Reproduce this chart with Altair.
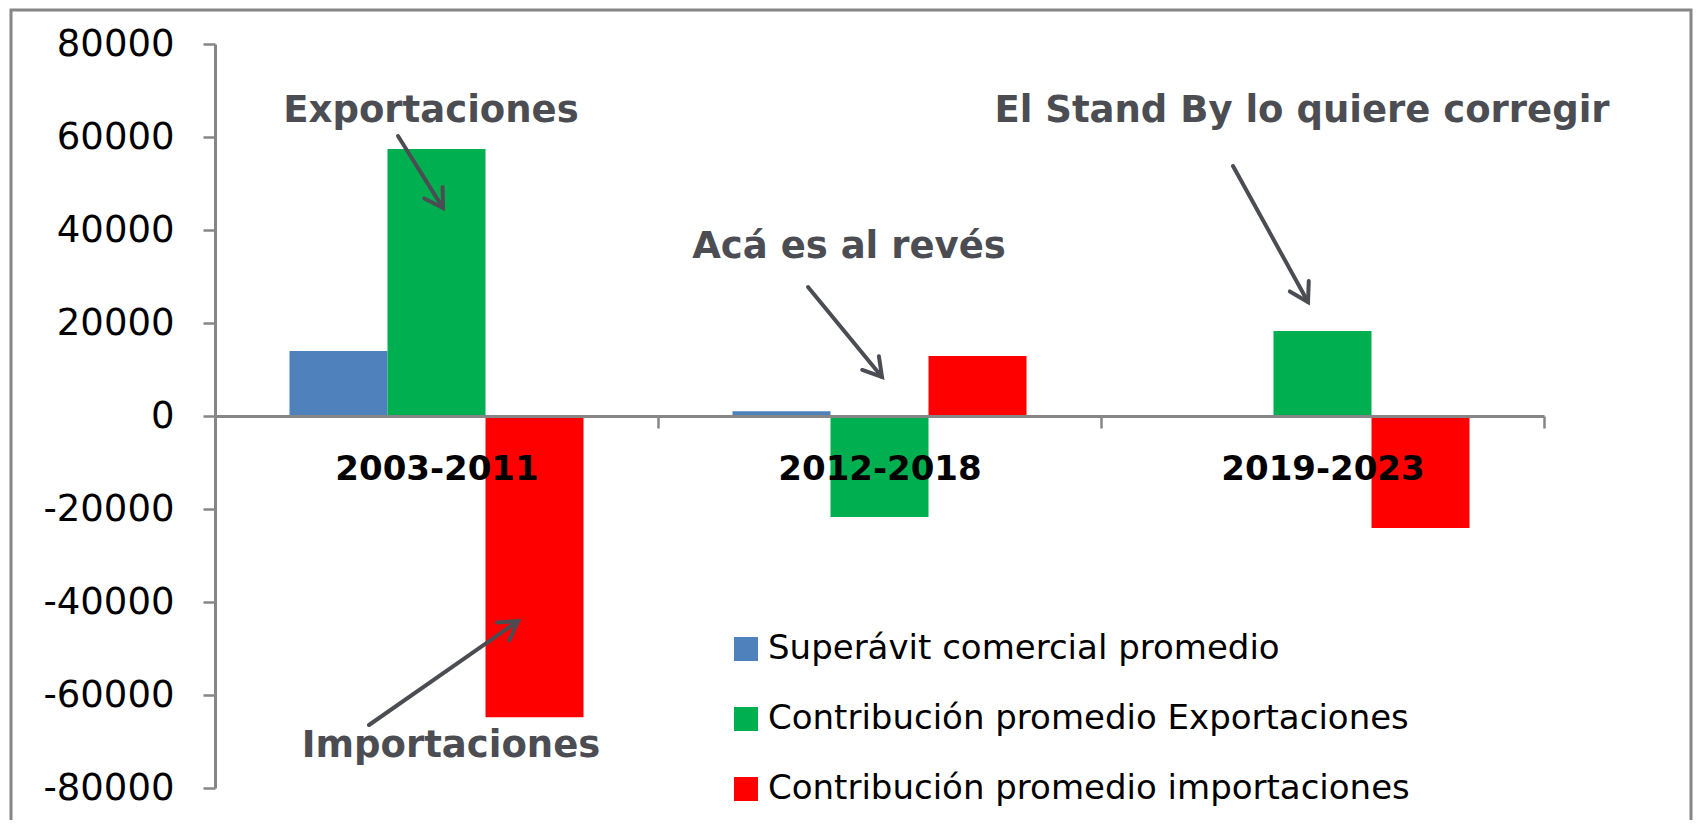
import math
import altair as alt
import pandas as pd

# ---- data ----
periods = ["2003-2011", "2012-2018", "2019-2023"]
series = [
    "Superávit comercial promedio",
    "Contribución promedio Exportaciones",
    "Contribución promedio importaciones",
]
superavit = [14000, 1000, 200]
exportaciones = [57400, -21700, 18300]
importaciones = [-64800, 12900, -24100]
y_ticks = [-80000, -60000, -40000, -20000, 0, 20000, 40000, 60000, 80000]
annot_texts = ["Exportaciones", "Importaciones", "Acá es al revés", "El Stand By lo quiere corregir"]

# ---- styles / positions ----
colors = ["#4F81BD", "#00B050", "#FF0000"]
AXIS_GRAY = "#868686"
ANNOT_COLOR = "#4B4D53"
W, H = 1329, 744
FONT = "DejaVu Sans"

# text anchors (pixels inside plot area): center x, baseline y
annot_pos = [(216, 78), (236, 713), (634, 214), (1087, 78)]
# arrows: start (x0,y0) -> tip (x1,y1)
arrows = [
    (183, 92, 228, 164),
    (154, 681, 303, 577),
    (593, 243, 667, 333),
    (1018, 122, 1093, 258),
]

rows = []
for i, p in enumerate(periods):
    for s, vals in zip(series, [superavit, exportaciones, importaciones]):
        rows.append({"period": p, "series": s, "value": vals[i]})
df = pd.DataFrame(rows)

bars = alt.Chart(df).mark_bar().encode(
    x=alt.X(
        "period:N",
        sort=periods,
        scale=alt.Scale(paddingInner=0, paddingOuter=0),
        axis=alt.Axis(
            title=None,
            labelAngle=0,
            labelFont=FONT,
            labelFontSize=34,
            labelFontWeight="bold",
            labelColor="black",
            labelPadding=24,
            labelLimit=0,
            domainColor=AXIS_GRAY,
            domainWidth=3,
            tickColor=AXIS_GRAY,
            tickWidth=2.5,
            tickSize=12,
            tickBand="extent",
            offset=-H / 2,
            zindex=1,
        ),
    ),
    xOffset=alt.XOffset(
        "series:N", sort=series, scale=alt.Scale(paddingInner=0, paddingOuter=0.76)
    ),
    y=alt.Y(
        "value:Q",
        scale=alt.Scale(domain=[-80000, 80000], nice=False),
        axis=alt.Axis(
            title=None,
            values=y_ticks,
            labelExpr="'' + datum.value",
            grid=False,
            labelFont=FONT,
            labelFontSize=37,
            labelColor="black",
            labelPadding=29,
            domainColor=AXIS_GRAY,
            domainWidth=3,
            tickColor=AXIS_GRAY,
            tickWidth=2.5,
            tickSize=12,
        ),
    ),
    color=alt.Color(
        "series:N",
        sort=series,
        scale=alt.Scale(domain=series, range=colors),
        legend=alt.Legend(
            title=None,
            orient="none",
            legendX=514,
            legendY=588,
            symbolType="square",
            symbolSize=576,
            symbolStrokeWidth=0,
            labelFont=FONT,
            labelFontSize=34,
            labelColor="black",
            labelOffset=5,
            rowPadding=36,
            padding=0,
            labelLimit=0,
        ),
    ),
)

one = pd.DataFrame({"k": [0]})

frame = alt.Chart(one).mark_rect(fillOpacity=0, stroke=AXIS_GRAY, strokeWidth=3).encode(
    x=alt.value(-204), x2=alt.value(1476), y=alt.value(-34), y2=alt.value(820)
)

layers = [frame, bars]

for txt, (tx, ty) in zip(annot_texts, annot_pos):
    layers.append(
        alt.Chart(one)
        .mark_text(
            text=txt,
            font=FONT,
            fontSize=37,
            fontWeight="bold",
            color=ANNOT_COLOR,
            align="center",
            baseline="alphabetic",
        )
        .encode(x=alt.value(tx), y=alt.value(ty))
    )

head_path = "M-0.6,1L0,0L0.6,1"
for (x0, y0, x1, y1) in arrows:
    layers.append(
        alt.Chart(one)
        .mark_rule(color=ANNOT_COLOR, strokeWidth=4, strokeCap="round")
        .encode(x=alt.value(x0), y=alt.value(y0), x2=alt.value(x1), y2=alt.value(y1))
    )
    ang = math.degrees(math.atan2(x1 - x0, -(y1 - y0))) % 360
    layers.append(
        alt.Chart(one)
        .mark_point(
            shape=head_path,
            size=1300,
            angle=ang,
            filled=False,
            stroke=ANNOT_COLOR,
            strokeWidth=4,
            strokeCap="round",
            strokeJoin="miter",
            opacity=1,
        )
        .encode(x=alt.value(x1), y=alt.value(y1))
    )

chart = (
    alt.layer(*layers)
    .properties(
        width=W,
        height=H,
        padding={"left": 207, "top": 36, "right": 150, "bottom": 32},
        autosize=alt.AutoSizeParams(type="none"),
        background="white",
    )
    .configure_view(stroke=None)
)

chart.save("out.html", embed_options={"renderer": "svg", "actions": False})
